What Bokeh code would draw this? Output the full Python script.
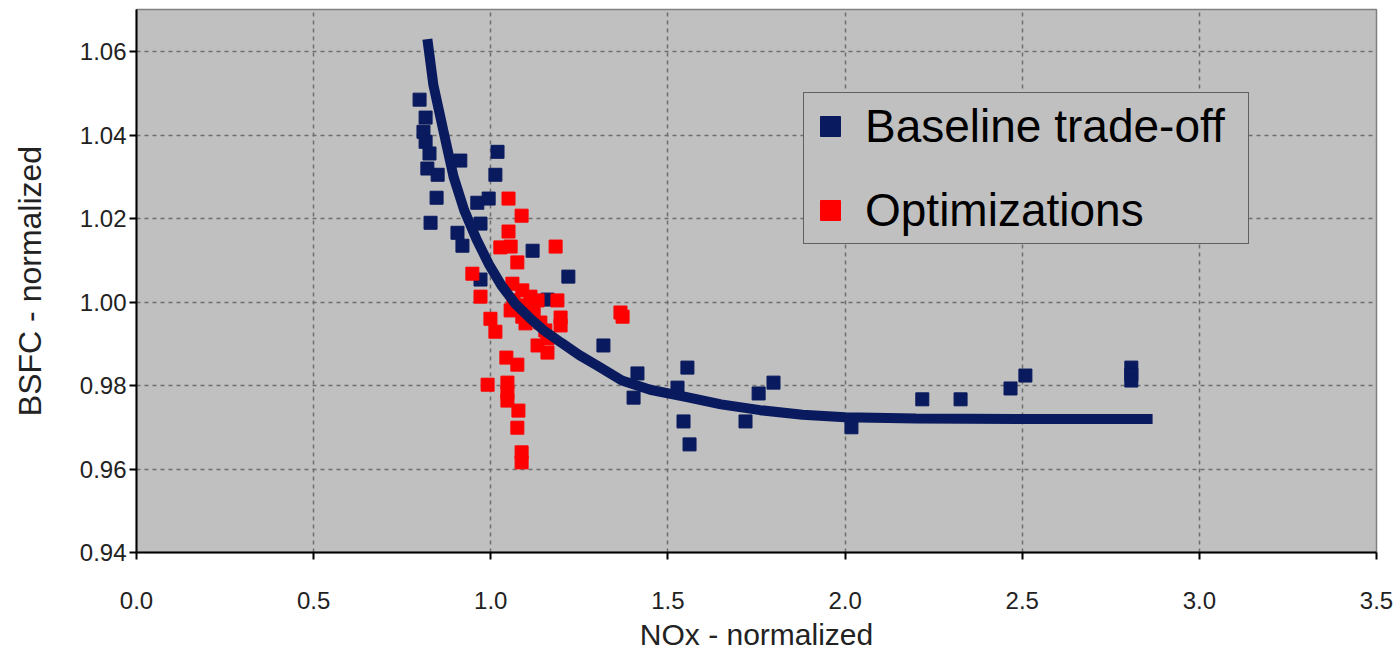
from bokeh.plotting import figure
from bokeh.models import Range1d, FixedTicker, Legend, LegendItem, CustomJSTickFormatter
from bokeh.embed import file_html
from bokeh.resources import INLINE

# ---- data ----
base_x = [0.799, 0.816, 0.810, 0.816, 0.827, 0.821, 0.850, 0.914, 1.019, 1.013,
          0.847, 0.962, 0.994, 0.830, 0.971, 0.906, 0.920, 1.118, 1.219, 0.971,
          1.160, 1.318, 1.414, 1.403, 1.555, 1.527, 1.544, 1.561, 1.756, 1.798,
          1.719, 2.018, 2.218, 2.326, 2.467, 2.509, 2.808, 2.808, 2.808]
base_y = [1.0485, 1.0442, 1.0408, 1.0384, 1.0356, 1.0320, 1.0305, 1.0339, 1.0360, 1.0305,
          1.0250, 1.0238, 1.0248, 1.0190, 1.0188, 1.0166, 1.0135, 1.0123, 1.0061, 1.0054,
          1.0006, 0.9896, 0.9829, 0.9771, 0.9843, 0.9795, 0.9714, 0.9659, 0.9781, 0.9807,
          0.9714, 0.9700, 0.9767, 0.9767, 0.9793, 0.9824, 0.9843, 0.9826, 0.9812]

opt_x = [1.050, 1.087, 1.050, 1.027, 1.056, 1.075, 1.183, 0.948, 0.971, 0.999,
         1.013, 1.044, 1.075, 0.991, 1.047, 1.047, 1.047, 1.078, 1.075, 1.087,
         1.087, 1.366, 1.372, 1.188, 1.197, 1.160, 1.132, 1.160, 1.061, 1.089,
         1.112, 1.064, 1.098, 1.132, 1.056, 1.089, 1.121, 1.140, 1.098, 1.197, 1.154]
opt_y = [1.0248, 1.0207, 1.0169, 1.0131, 1.0133, 1.0095, 1.0133, 1.0068, 1.0013, 0.9960,
         0.9929, 0.9867, 0.9850, 0.9802, 0.9807, 0.9783, 0.9764, 0.9740, 0.9699, 0.9640,
         0.9616, 0.9975, 0.9965, 1.0004, 0.9963, 0.9913, 0.9896, 0.9879, 1.0044, 1.0028,
         1.0013, 1.0004, 0.9992, 1.0004, 0.9980, 0.9965, 0.9975, 0.9951, 0.9949, 0.9944, 0.9932]

curve_x = [0.821, 0.838, 0.866, 0.895, 0.925, 0.960, 0.995, 1.030, 1.070, 1.110,
           1.150, 1.200, 1.250, 1.300, 1.370, 1.450, 1.550, 1.650, 1.760, 1.880,
           2.000, 2.200, 2.500, 2.868]
curve_y = [1.0630, 1.0520, 1.0411, 1.0300, 1.0220, 1.0150, 1.0090, 1.0040, 0.9995, 0.9962,
           0.9932, 0.9902, 0.9873, 0.9848, 0.9812, 0.9790, 0.9773, 0.9755, 0.9741, 0.9730,
           0.9724, 0.9721, 0.9720, 0.9720]

x_ticks = [0.0, 0.5, 1.0, 1.5, 2.0, 2.5, 3.0, 3.5]
y_ticks = [0.94, 0.96, 0.98, 1.00, 1.02, 1.04, 1.06]

NAVY = "#0a1a5e"
RED = "#ff0000"
FONT = "Liberation Sans"

p = figure(width=1399, height=660, output_backend="svg", toolbar_location=None,
           x_range=Range1d(0, 3.5), y_range=Range1d(0.94, 1.0701),
           min_border_left=136, min_border_right=23, min_border_top=9, min_border_bottom=108)

p.background_fill_color = "#c0c0c0"
p.border_fill_color = "white"
p.outline_line_color = "#808080"
p.outline_line_width = 1.5

p.xgrid.ticker = FixedTicker(ticks=x_ticks)
p.ygrid.ticker = FixedTicker(ticks=y_ticks)
for g in (p.xgrid, p.ygrid):
    g.grid_line_color = "#6e6e6e"
    g.grid_line_dash = "4 4"
    g.grid_line_width = 1.5

p.xaxis.ticker = FixedTicker(ticks=x_ticks)
p.yaxis.ticker = FixedTicker(ticks=y_ticks)
p.xaxis.formatter = CustomJSTickFormatter(code="return tick.toFixed(1);")
p.yaxis.formatter = CustomJSTickFormatter(code="return tick.toFixed(2);")

for ax in (p.xaxis, p.yaxis):
    ax.axis_line_color = "black"
    ax.axis_line_width = 2
    ax.major_tick_line_color = "black"
    ax.major_tick_line_width = 2
    ax.major_tick_in = 0
    ax.major_tick_out = 7
    ax.minor_tick_line_color = None
    ax.major_label_text_font = FONT
    ax.major_label_text_font_size = "24px"
    ax.major_label_text_color = "#222222"
    ax.axis_label_text_font = FONT
    ax.axis_label_text_font_style = "normal"
    ax.axis_label_text_color = "#222222"

p.xaxis.axis_label = "NOx - normalized"
p.yaxis.axis_label = "BSFC - normalized"
p.xaxis.axis_label_text_font_size = "30px"
p.yaxis.axis_label_text_font_size = "32px"
p.xaxis.major_label_standoff = 32
p.yaxis.major_label_standoff = 3
p.xaxis.axis_label_standoff = 6
p.yaxis.axis_label_standoff = 29

r_base = p.scatter(base_x, base_y, marker="square", size=13, fill_color=NAVY, line_color=NAVY)
r_opt = p.scatter(opt_x, opt_y, marker="square", size=13, fill_color=RED, line_color=RED)
p.line(curve_x, curve_y, line_color=NAVY, line_width=10)

legend = Legend(items=[LegendItem(label="Baseline trade-off", renderers=[r_base]),
                       LegendItem(label="Optimizations", renderers=[r_opt])],
                location=(667, 308))
legend.glyph_width = 50
legend.glyph_height = 64
legend.label_height = 64
legend.label_width = 382
legend.label_standoff = 10
legend.padding = 1
legend.spacing = 20
legend.margin = 0
legend.label_text_font = FONT
legend.label_text_font_size = "46px"
legend.label_text_color = "black"
legend.background_fill_color = "#c0c0c0"
legend.background_fill_alpha = 1
legend.border_line_color = "black"
legend.border_line_width = 1.5
p.add_layout(legend)

open("out.html", "w").write(file_html(p, INLINE))
